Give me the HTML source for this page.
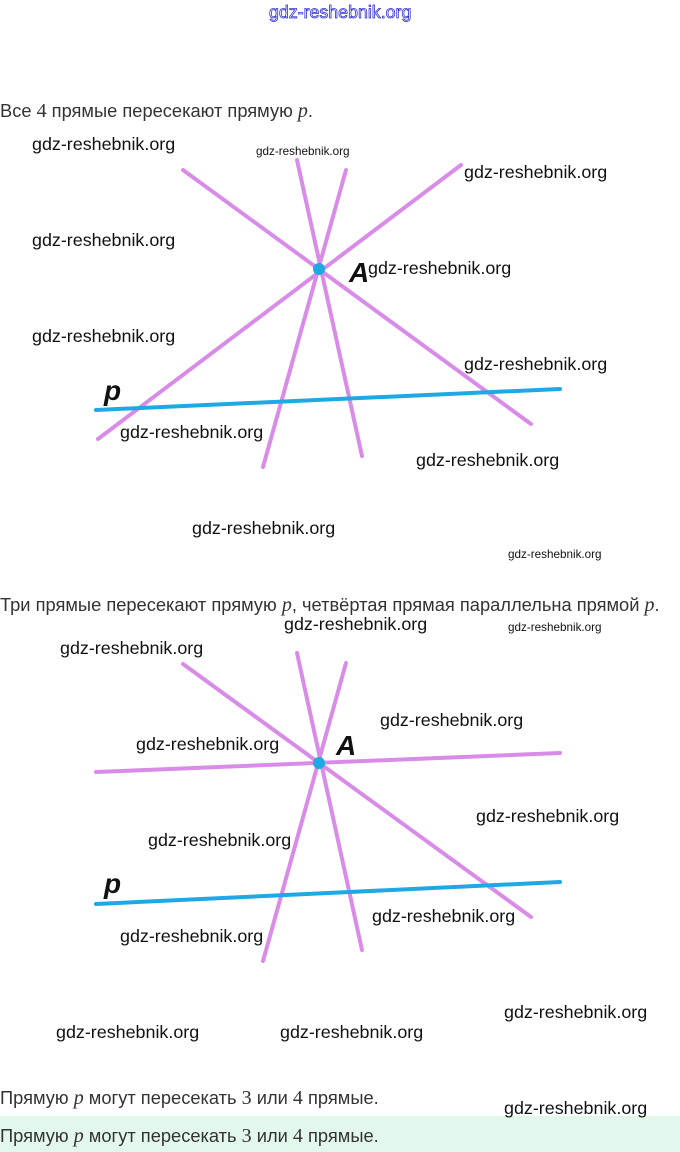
<!DOCTYPE html>
<html><head><meta charset="utf-8"><style>
html,body{margin:0;padding:0;background:#fff;}
svg{display:block}
.w{font-family:"Liberation Sans",sans-serif;font-size:17.9px;fill:#111}
.s{font-family:"Liberation Sans",sans-serif;font-size:11.7px;fill:#111}
.t{font-family:"Liberation Sans","DejaVu Sans",sans-serif;font-size:18.3px;fill:#333}
.m{font-family:"Liberation Serif",serif;font-style:italic;font-size:20px}
.n{font-family:"Liberation Serif",serif;font-size:20px}
.l{stroke:#d98be8;stroke-width:4;stroke-linecap:round}
.b{stroke:#1ea9e2;stroke-width:4;stroke-linecap:round}
.lab{font-family:"Liberation Sans",sans-serif;font-weight:bold;font-style:italic;font-size:28px;fill:#111}
</style></head><body>
<svg width="680" height="1152" viewBox="0 0 680 1152">
<rect x="0" y="1116" width="680" height="36" fill="#e3f8ec"/>
<text x="269" y="18" style="font-family:'Liberation Sans',sans-serif;font-size:17.8px;fill:#fff;stroke:#3030d0;stroke-width:0.8">gdz-reshebnik.org</text>

<text x="0" y="117" class="t">Все <tspan class="n">4</tspan> прямые пересекают прямую <tspan class="m">p</tspan>.</text>

<line class="l" x1="183" y1="170" x2="531" y2="424"/>
<line class="l" x1="297" y1="160" x2="362" y2="456"/>
<line class="l" x1="346" y1="170" x2="263" y2="467"/>
<line class="l" x1="461" y1="165" x2="98" y2="439"/>
<line class="b" x1="96" y1="410" x2="560" y2="389"/>
<circle cx="319" cy="269" r="6" fill="#1ea9e2"/>
<text x="104" y="400" class="lab">p</text>
<text x="349" y="282" class="lab">A</text>

<text x="32" y="150" class="w">gdz-reshebnik.org</text>
<text x="256" y="155" class="s">gdz-reshebnik.org</text>
<text x="464" y="178" class="w">gdz-reshebnik.org</text>
<text x="32" y="246" class="w">gdz-reshebnik.org</text>
<text x="368" y="274" class="w">gdz-reshebnik.org</text>
<text x="32" y="342" class="w">gdz-reshebnik.org</text>
<text x="464" y="370" class="w">gdz-reshebnik.org</text>
<text x="120" y="438" class="w">gdz-reshebnik.org</text>
<text x="416" y="466" class="w">gdz-reshebnik.org</text>
<text x="192" y="534" class="w">gdz-reshebnik.org</text>
<text x="508" y="558" class="s">gdz-reshebnik.org</text>

<text x="0" y="611" class="t">Три прямые пересекают прямую <tspan class="m">p</tspan>, четвёртая прямая параллельна прямой <tspan class="m">p</tspan>.</text>
<text x="284" y="630" class="w">gdz-reshebnik.org</text>
<text x="508" y="631" class="s">gdz-reshebnik.org</text>

<line class="l" x1="183" y1="664" x2="531" y2="917"/>
<line class="l" x1="297" y1="653" x2="362" y2="950"/>
<line class="l" x1="346" y1="663" x2="263" y2="961"/>
<line class="l" x1="96" y1="772" x2="560" y2="753"/>
<line class="b" x1="96" y1="904" x2="560" y2="882"/>
<circle cx="319" cy="763" r="6" fill="#1ea9e2"/>
<text x="104" y="893" class="lab">p</text>
<text x="336" y="755" class="lab">A</text>

<text x="60" y="654" class="w">gdz-reshebnik.org</text>
<text x="380" y="726" class="w">gdz-reshebnik.org</text>
<text x="136" y="750" class="w">gdz-reshebnik.org</text>
<text x="476" y="822" class="w">gdz-reshebnik.org</text>
<text x="148" y="846" class="w">gdz-reshebnik.org</text>
<text x="372" y="922" class="w">gdz-reshebnik.org</text>
<text x="120" y="942" class="w">gdz-reshebnik.org</text>
<text x="504" y="1018" class="w">gdz-reshebnik.org</text>
<text x="56" y="1038" class="w">gdz-reshebnik.org</text>
<text x="280" y="1038" class="w">gdz-reshebnik.org</text>

<text x="0" y="1104" class="t">Прямую <tspan class="m">p</tspan> могут пересекать <tspan class="n">3</tspan> или <tspan class="n">4</tspan> прямые.</text>
<text x="504" y="1114" class="w">gdz-reshebnik.org</text>
<text x="0" y="1142" class="t">Прямую <tspan class="m">p</tspan> могут пересекать <tspan class="n">3</tspan> или <tspan class="n">4</tspan> прямые.</text>
</svg>
</body></html>
